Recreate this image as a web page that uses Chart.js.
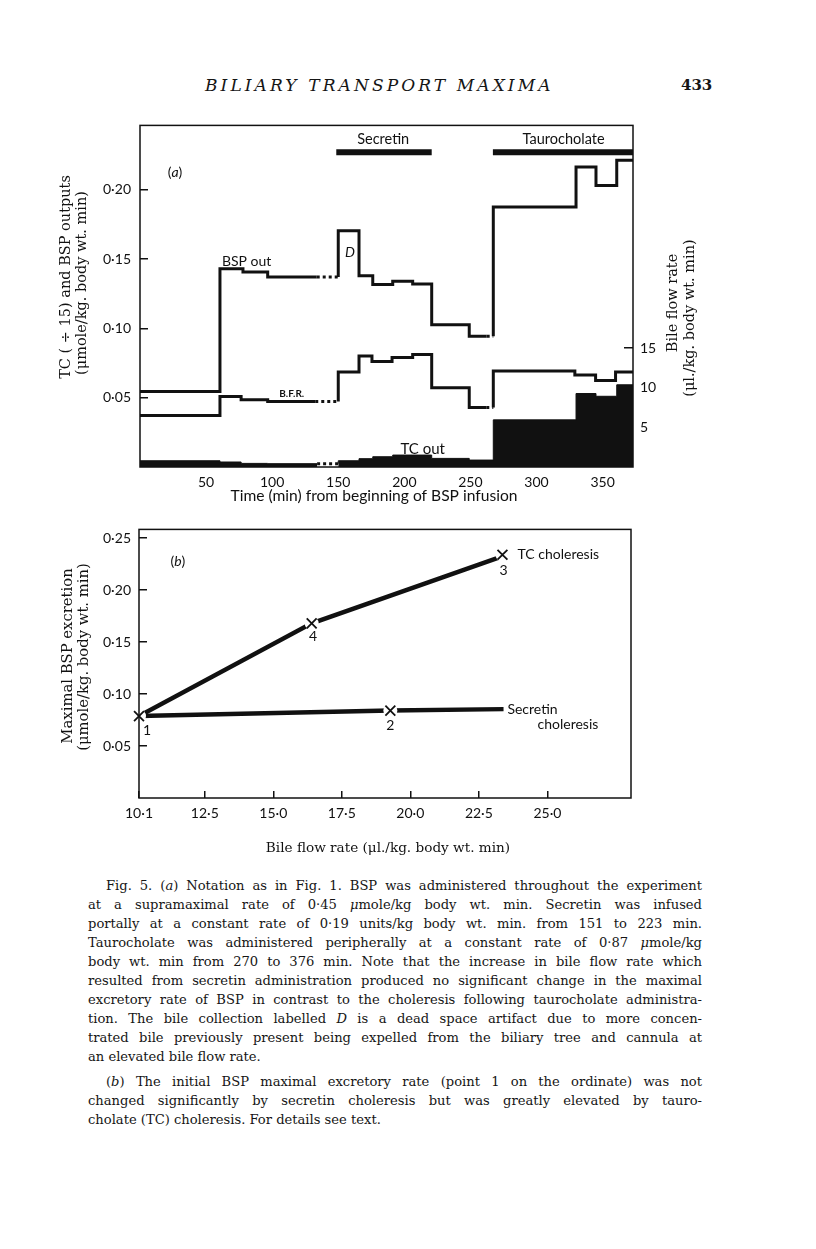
<!DOCTYPE html>
<html lang="en">
<head>
<meta charset="utf-8">
<title>Biliary transport maxima - Fig. 5</title>
<script src="https://cdn.jsdelivr.net/npm/chart.js@4.4.1/dist/chart.umd.min.js"></script>
<style>
  html, body { margin: 0; padding: 0; background: #fff; }
  body { position: relative; width: 816px; height: 1249px; overflow: hidden; color: #151515; font-family: 'DejaVu Serif', serif; }
  .runhead { position: absolute; top: 75px; left: 205px; font-size: 17px; font-style: italic; letter-spacing: 3.1px; line-height: 20px; white-space: nowrap; }
  .pageno { position: absolute; top: 75px; left: 681px; font-size: 15px; font-weight: bold; line-height: 20px; }
  canvas { position: absolute; left: 0; }
  #chartA { top: 100px; }
  #chartB { top: 505px; }
  .caption { position: absolute; left: 88px; width: 614px; font-size: 13.1px; line-height: 19px; }
  .caption div { white-space: nowrap; text-align: justify; text-align-last: justify; }
  .caption div.end { text-align-last: left; }
  .caption div.ind { padding-left: 18px; }
</style>
</head>
<body>
<div class="runhead">BILIARY TRANSPORT MAXIMA</div>
<div class="pageno">433</div>
<canvas id="chartA" width="816" height="405"></canvas>
<canvas id="chartB" width="816" height="370"></canvas>

<div class="caption" style="top:876px">
  <div class="ind">Fig. 5. (<i>a</i>) Notation as in Fig. 1. BSP was administered throughout the experiment</div>
  <div>at a supramaximal rate of 0·45 <i>μ</i>mole/kg body wt. min. Secretin was infused</div>
  <div>portally at a constant rate of 0·19 units/kg body wt. min. from 151 to 223 min.</div>
  <div>Taurocholate was administered peripherally at a constant rate of 0·87 <i>μ</i>mole/kg</div>
  <div>body wt. min from 270 to 376 min. Note that the increase in bile flow rate which</div>
  <div>resulted from secretin administration produced no significant change in the maximal</div>
  <div>excretory rate of BSP in contrast to the choleresis following taurocholate administra-</div>
  <div>tion. The bile collection labelled <i>D</i> is a dead space artifact due to more concen-</div>
  <div>trated bile previously present being expelled from the biliary tree and cannula at</div>
  <div class="end">an elevated bile flow rate.</div>
</div>
<div class="caption" style="top:1072px">
  <div class="ind">(<i>b</i>) The initial BSP maximal excretory rate (point 1 on the ordinate) was not</div>
  <div>changed significantly by secretin choleresis but was greatly elevated by tauro-</div>
  <div class="end">cholate (TC) choleresis. For details see text.</div>
</div>

<script>
const sans = "Lato, 'Open Sans', sans-serif";
const serif = "'DejaVu Serif', serif";
const ink = '#111';

// ---- panel (a): each value holds from its time (min) until the next time ----
const bspTime = [0, 60.5, 77.9, 96.6, 133.7, 150, 150, 165.7, 176.1, 191.2, 206.3, 220.7, 249.1, 262.3, 267.3, 267.3, 329.9, 345, 360.7, 373];
const bspOut = [0.0545, 0.143, 0.1407, 0.137, 0.137, 0.137, 0.1705, 0.138, 0.1317, 0.134, 0.132, 0.1026, 0.0943, 0.0943, 0.0943, 0.1876, 0.2164, 0.203, 0.2212, 0.2212];
const bspDotted = [4, 13];

const bfrTime = [0, 60.5, 76.5, 96.6, 132.6, 150, 150, 165.7, 175.5, 190.7, 206.3, 220.7, 249.1, 262, 267.3, 267.3, 329, 344.7, 359.8, 373];
const bfrRate = [6.5, 8.9, 8.5, 8.25, 8.25, 8.25, 12.0, 14.0, 13.3, 13.8, 14.2, 10.0, 7.5, 7.5, 7.5, 12.1, 11.6, 10.9, 12.0, 12.0];
const bfrDotted = [4, 13];

const tcTime = [0, 60.5, 76.5, 96.6, 134, 150, 150, 165.7, 176.1, 191.2, 206.3, 220.7, 249.1, 267.3, 329.9, 345, 360.7, 373];
const tcOut = [0.0045, 0.0036, 0.0026, 0.0024, 0.0024, 0.0024, 0.0045, 0.006, 0.0074, 0.0086, 0.0086, 0.0062, 0.005, 0.034, 0.053, 0.051, 0.0593, 0.0593];
const tcDotted = [4];

const secretinPeriod = [148.5, 220.7];
const taurocholatePeriod = [267, 376];
const infusionLevel = 0.227;

const timeTicks = [50, 100, 150, 200, 250, 300, 350];
const outputTicks = [0.05, 0.10, 0.15, 0.20];
const flowTicks = [5, 10, 15];

// ---- panel (b) ----
const tcFlow = [10.1, 16.4, 23.3];
const tcMax = [0.0788, 0.168, 0.232];
const secFlow = [10.1, 19.27, 23.4];
const secMax = [0.0788, 0.0841, 0.0855];
const pointNo = ['1', '2', '3', '4'];
const pointFlow = [10.1, 19.27, 23.36, 16.4];
const pointMax = [0.0788, 0.0841, 0.234, 0.168];
const flowAxisTicks = [10.1, 12.5, 15.0, 17.5, 20.0, 22.5, 25.0];
const maxTicks = [0.05, 0.10, 0.15, 0.20, 0.25];

const pts = (xs, ys) => xs.map((x, i) => ({x: x, y: ys[i]}));
const dot = (v, d) => v.toFixed(d).replace('.', '\u00b7');
const f = (size, family, style) => (style ? style + ' ' : '') + size + 'px ' + family;

// draw a string made of font runs, centred or left aligned, optionally rotated
function drawRuns(ctx, runs, x, y, align, rot) {
  ctx.save();
  ctx.translate(x, y);
  ctx.rotate(rot || 0);
  let w = 0;
  runs.forEach(r => { ctx.font = r[1]; w += ctx.measureText(r[0]).width; });
  let cx = align === 'left' ? 0 : -w / 2;
  ctx.textAlign = 'left';
  runs.forEach(r => { ctx.font = r[1]; ctx.fillText(r[0], cx, 0); cx += ctx.measureText(r[0]).width; });
  ctx.restore();
}

// frame round the plot, text notes placed on the data scales, axis titles
const inkPlugin = {
  id: 'ink',
  afterDatasetsDraw(chart, args, opts) {
    const {ctx, chartArea: a, scales} = chart;
    ctx.save();
    ctx.strokeStyle = ink;
    ctx.lineWidth = 1.5;
    ctx.strokeRect(a.left, a.top, a.right - a.left, a.bottom - a.top);
    ctx.fillStyle = ink;
    ctx.textBaseline = 'middle';
    (opts.notes || []).forEach(n => {
      const x = scales.x.getPixelForValue(n.x);
      const y = scales[n.axis || 'y'].getPixelForValue(n.y);
      drawRuns(ctx, n.runs || [[n.text, n.font]], x, y, n.align, 0);
    });
    (opts.titles || []).forEach(t => drawRuns(ctx, [[t.text, t.font]], t.x, t.y, 'center', t.rot));
    ctx.restore();
  }
};

const stepLine = (xs, ys, dotted, axis) => ({
  data: pts(xs, ys),
  yAxisID: axis,
  stepped: 'before',
  borderColor: ink,
  borderWidth: 3,
  pointRadius: 0,
  fill: false,
  segment: { borderDash: c => dotted.includes(c.p0DataIndex) ? [3, 3] : undefined }
});

const bar = period => ({
  data: pts(period, [infusionLevel, infusionLevel]),
  yAxisID: 'y',
  borderColor: ink,
  borderWidth: 6,
  borderCapStyle: 'butt',
  pointRadius: 0
});

const up = -Math.PI / 2;

new Chart(document.getElementById('chartA'), {
  type: 'line',
  data: {
    datasets: [
      stepLine(bspTime, bspOut, bspDotted, 'y'),
      stepLine(bfrTime, bfrRate, bfrDotted, 'y1'),
      {
        data: pts(tcTime, tcOut),
        yAxisID: 'y',
        stepped: 'before',
        borderColor: ink,
        borderWidth: 1,
        backgroundColor: ink,
        fill: 'origin',
        pointRadius: 0,
        segment: {
          backgroundColor: c => tcDotted.includes(c.p0DataIndex) ? 'rgba(0,0,0,0)' : undefined,
          borderDash: c => tcDotted.includes(c.p0DataIndex) ? [3, 3] : undefined,
          borderWidth: c => tcDotted.includes(c.p0DataIndex) ? 3 : undefined
        }
      },
      bar(secretinPeriod),
      bar(taurocholatePeriod)
    ]
  },
  options: {
    responsive: false,
    animation: false,
    events: [],
    layout: { padding: { top: 22 } },
    plugins: {
      legend: { display: false },
      tooltip: { enabled: false },
      ink: {
        notes: [
          { runs: [['(', f(14, sans)], ['a', f(14, sans, 'italic')], [')', f(14, sans)]], x: 26.5, y: 0.2121 },
          { text: 'Secretin', font: f(14.5, sans), x: 184, y: 0.2365 },
          { text: 'Taurocholate', font: f(14.5, sans), x: 320.5, y: 0.2365 },
          { text: 'BSP out', font: f(14, sans), x: 80.7, y: 0.1486 },
          { text: 'D', font: f(14, sans, 'italic'), x: 158.9, y: 0.155 },
          { text: 'B.F.R.', font: f(10, sans, 'bold'), x: 114.8, y: 9.3, axis: 'y1' },
          { text: 'TC out', font: f(15, sans), x: 213.9, y: 0.0129 }
        ],
        titles: [
          { text: 'TC ( \u00f7 15) and BSP outputs', font: f(14.5, serif), x: 66, y: 177, rot: up },
          { text: '(\u03bcmole/kg. body wt. min)', font: f(14.5, serif), x: 82, y: 183, rot: up },
          { text: 'Bile flow rate', font: f(14.5, serif), x: 673, y: 203, rot: up },
          { text: '(\u03bcl./kg. body wt. min)', font: f(14.5, serif), x: 690, y: 218, rot: up },
          { text: 'Time (min) from beginning of BSP infusion', font: f(15.6, sans), x: 374, y: 396, rot: 0 }
        ]
      }
    },
    scales: {
      x: {
        type: 'linear', min: 0, max: 373,
        afterBuildTicks: s => { s.ticks = timeTicks.map(v => ({value: v})); },
        afterFit: s => { s.height = 38; },
        grid: { display: false }, border: { display: false },
        ticks: { color: ink, font: { family: sans, size: 14 }, padding: -1, maxRotation: 0, autoSkip: false }
      },
      y: {
        position: 'left', min: 0, max: 0.2464,
        afterBuildTicks: s => { s.ticks = outputTicks.map(v => ({value: v})); },
        afterFit: s => { s.width = 140; },
        grid: { drawOnChartArea: false, tickLength: -8, color: ink, lineWidth: 1.5 },
        border: { display: false },
        ticks: { color: ink, font: { family: sans, size: 14 }, padding: 17, callback: v => dot(v, 2) }
      },
      y1: {
        position: 'right', min: 0, max: 43.1,
        afterBuildTicks: s => { s.ticks = flowTicks.map(v => ({value: v})); },
        afterFit: s => { s.width = 183; },
        grid: { drawOnChartArea: false, tickLength: -9, color: ink, lineWidth: 1.5 },
        border: { display: false },
        ticks: { color: ink, font: { family: sans, size: 14 }, padding: 16, callback: v => String(v) }
      }
    }
  },
  plugins: [inkPlugin]
});

new Chart(document.getElementById('chartB'), {
  type: 'line',
  data: {
    datasets: [
      {
        data: pts(pointFlow, pointMax), showLine: false, order: 0, clip: false,
        pointStyle: 'crossRot', pointRadius: 7, pointBorderColor: ink, pointBorderWidth: 1.8
      },
      {
        data: pts(pointFlow, pointMax), showLine: false, order: 1, clip: false,
        pointStyle: 'circle', pointRadius: 7, pointBackgroundColor: '#fff', pointBorderWidth: 0
      },
      { data: pts(tcFlow, tcMax), borderColor: ink, borderWidth: 4.5, pointRadius: 0, order: 2 },
      { data: pts(secFlow, secMax), borderColor: ink, borderWidth: 4.5, pointRadius: 0, order: 2 }
    ]
  },
  options: {
    responsive: false,
    animation: false,
    events: [],
    layout: { padding: { top: 2, right: 185 } },
    plugins: {
      legend: { display: false },
      tooltip: { enabled: false },
      ink: {
        notes: [
          { runs: [['(', f(14, sans)], ['b', f(14, sans, 'italic')], [')', f(14, sans)]], x: 11.52, y: 0.2276 },
          { text: pointNo[0], font: f(14, sans), x: 10.39, y: 0.0648 },
          { text: pointNo[1], font: f(14, sans), x: 19.27, y: 0.0693 },
          { text: pointNo[2], font: f(14, sans), x: 23.4, y: 0.2187 },
          { text: pointNo[3], font: f(14, sans), x: 16.45, y: 0.1554 },
          { text: 'TC choleresis', font: f(14, sans), x: 23.91, y: 0.2342, align: 'left' },
          { text: 'Secretin', font: f(14, sans), x: 23.54, y: 0.0855, align: 'left' },
          { text: 'choleresis', font: f(14, sans), x: 24.64, y: 0.0708, align: 'left' }
        ],
        titles: [
          { text: 'Maximal BSP excretion', font: f(14.8, serif), x: 68, y: 151, rot: up },
          { text: '(\u03bcmole/kg. body wt. min)', font: f(14.8, serif), x: 84, y: 152, rot: up },
          { text: 'Bile flow rate (\u03bcl./kg. body wt. min)', font: f(13.6, serif), x: 388, y: 343, rot: 0 }
        ]
      }
    },
    scales: {
      x: {
        type: 'linear', min: 10.1, max: 28.05,
        afterBuildTicks: s => { s.ticks = flowAxisTicks.map(v => ({value: v})); },
        afterFit: s => { s.height = 77; },
        grid: { drawOnChartArea: false, tickLength: -7, color: ink, lineWidth: 1.5 },
        border: { display: false },
        ticks: { color: ink, font: { family: sans, size: 14 }, padding: 14, maxRotation: 0, autoSkip: false, callback: v => dot(v, 1) }
      },
      y: {
        min: 0, max: 0.2584,
        afterBuildTicks: s => { s.ticks = maxTicks.map(v => ({value: v})); },
        afterFit: s => { s.width = 139; },
        grid: { drawOnChartArea: false, tickLength: -8, color: ink, lineWidth: 1.5 },
        border: { display: false },
        ticks: { color: ink, font: { family: sans, size: 14 }, padding: 16, callback: v => dot(v, 2) }
      }
    }
  },
  plugins: [inkPlugin]
});
</script>
</body>
</html>
